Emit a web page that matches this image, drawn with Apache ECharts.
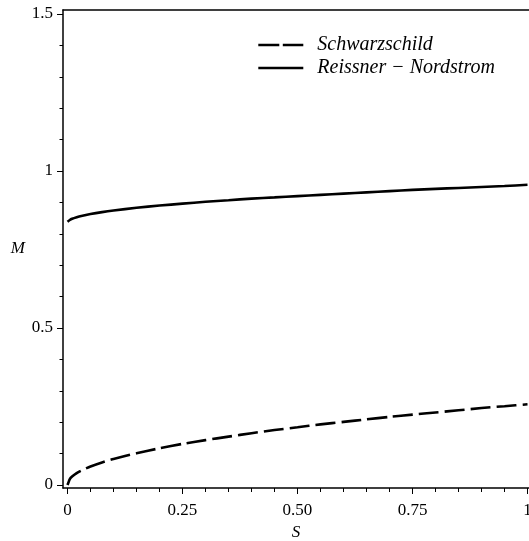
<!DOCTYPE html>
<html><head><meta charset="utf-8">
<script src="https://cdn.jsdelivr.net/npm/echarts@6/dist/echarts.min.js"></script>
<style>html,body{margin:0;padding:0;background:#fff;overflow:hidden}#c{width:529px;height:541px}</style>
</head><body><div id="c"></div>
<script>
const S = [0, 0.005, 0.01, 0.02, 0.03, 0.05, 0.075, 0.1, 0.15, 0.2, 0.25, 0.3, 0.35, 0.4, 0.45, 0.5, 0.55, 0.6, 0.65, 0.7, 0.75, 0.8, 0.85, 0.9, 0.95, 1];
const schwarzschild = [0, 0.019, 0.027, 0.038, 0.046, 0.059, 0.072, 0.083, 0.101, 0.117, 0.131, 0.143, 0.154, 0.165, 0.175, 0.184, 0.193, 0.201, 0.209, 0.217, 0.224, 0.231, 0.238, 0.245, 0.251, 0.257];
const reissnerNordstrom = [0.838, 0.844, 0.848, 0.853, 0.857, 0.863, 0.869, 0.874, 0.883, 0.89, 0.896, 0.902, 0.907, 0.912, 0.916, 0.92, 0.924, 0.928, 0.932, 0.936, 0.94, 0.943, 0.946, 0.949, 0.952, 0.956];
const xMajor = [0, 0.25, 0.5, 0.75, 1];
const xMinor = [0.05, 0.1, 0.15, 0.2, 0.3, 0.35, 0.4, 0.45, 0.55, 0.6, 0.65, 0.7, 0.8, 0.85, 0.9, 0.95];
const yMajor = [0, 0.5, 1, 1.5];
const yMinor = [0.1, 0.2, 0.3, 0.4, 0.6, 0.7, 0.8, 0.9, 1.1, 1.2, 1.3, 1.4];
const xLabels = {0: '0', 0.25: '0.25', 0.5: '0.50', 0.75: '0.75', 1: '1'};
const yLabels = {0: '0', 0.5: '0.5', 1: '1', 1.5: '1.5'};
const seriesNames = ['Schwarzschild', 'Reissner − Nordstrom'];

const FONT = "'Liberation Serif', 'Times New Roman', serif";
const xMin = -0.00978, xMax = 1.00326;
const yMin = -0.00955, yMax = 1.5127;
const axisLineStyle = {color: '#000', width: 1.5};

const chart = echarts.init(document.getElementById('c'), null, {renderer: 'canvas'});
chart.setOption({
  animation: false,
  backgroundColor: '#fff',
  grid: {left: 63, right: 0, top: 10, bottom: 53, outerBoundsMode: 'none'},
  legend: {
    left: 257, top: 35, padding: 0, orient: 'vertical', itemWidth: 45, itemHeight: 14, itemGap: 3,
    itemStyle: {opacity: 0},
    data: [
      {name: seriesNames[0], lineStyle: {type: [21, 3.5], width: 2.6, color: '#000'}, itemStyle: {opacity: 0}},
      {name: seriesNames[1], lineStyle: {type: 'solid', width: 2.6, color: '#000'}, itemStyle: {opacity: 0}}
    ],
    textStyle: {fontFamily: FONT, fontStyle: 'italic', fontSize: 20, color: '#000', padding: [0, 0, 0, 9]}
  },
  xAxis: [
    {type: 'value', position: 'bottom', min: xMin, max: xMax,
     name: 'S', nameLocation: 'middle', nameGap: 36,
     nameTextStyle: {fontFamily: FONT, fontStyle: 'italic', fontSize: 17, color: '#000'},
     axisLine: {show: true, lineStyle: axisLineStyle, onZero: false},
     axisTick: {show: true, customValues: xMajor, length: 6, lineStyle: {color: '#000', width: 1}},
     axisLabel: {show: true, customValues: xMajor, margin: 14, fontFamily: FONT, fontSize: 17, color: '#000',
       hideOverlap: false, formatter: v => xLabels[v] !== undefined ? xLabels[v] : ''},
     splitLine: {show: false}},
    {type: 'value', position: 'bottom', min: xMin, max: xMax,
     axisLine: {show: false, onZero: false},
     axisTick: {show: true, customValues: xMinor, length: 4, lineStyle: {color: '#000', width: 1}},
     axisLabel: {show: false}, splitLine: {show: false}},
    {type: 'value', position: 'top', min: xMin, max: xMax,
     axisLine: {show: true, lineStyle: axisLineStyle, onZero: false},
     axisTick: {show: false}, axisLabel: {show: false}, splitLine: {show: false}}
  ],
  yAxis: [
    {type: 'value', position: 'left', min: yMin, max: yMax,
     name: 'M', nameLocation: 'middle', nameGap: 38, nameRotate: 0,
     nameTextStyle: {fontFamily: FONT, fontStyle: 'italic', fontSize: 17, color: '#000'},
     axisLine: {show: true, lineStyle: axisLineStyle, onZero: false},
     axisTick: {show: true, customValues: yMajor, length: 6, lineStyle: {color: '#000', width: 1}},
     axisLabel: {show: true, customValues: yMajor, margin: 10, fontFamily: FONT, fontSize: 17, color: '#000',
       formatter: v => yLabels[v] !== undefined ? yLabels[v] : ''},
     splitLine: {show: false}},
    {type: 'value', position: 'left', min: yMin, max: yMax,
     axisLine: {show: false, onZero: false},
     axisTick: {show: true, customValues: yMinor, length: 3.5, lineStyle: {color: '#000', width: 1}},
     axisLabel: {show: false}, splitLine: {show: false}}
  ],
  series: [
    {name: seriesNames[0], type: 'line', xAxisIndex: 0, yAxisIndex: 0, symbol: 'none', smooth: 0.2,
     data: S.map((s, i) => [s, schwarzschild[i]]),
     lineStyle: {color: '#000', width: 2.6, type: [20, 6]}, itemStyle: {color: '#000'}},
    {name: seriesNames[1], type: 'line', xAxisIndex: 0, yAxisIndex: 0, symbol: 'none', smooth: 0.2,
     data: S.map((s, i) => [s, reissnerNordstrom[i]]),
     lineStyle: {color: '#000', width: 2.6}, itemStyle: {color: '#000'}}
  ]
});
</script>
</body></html>
